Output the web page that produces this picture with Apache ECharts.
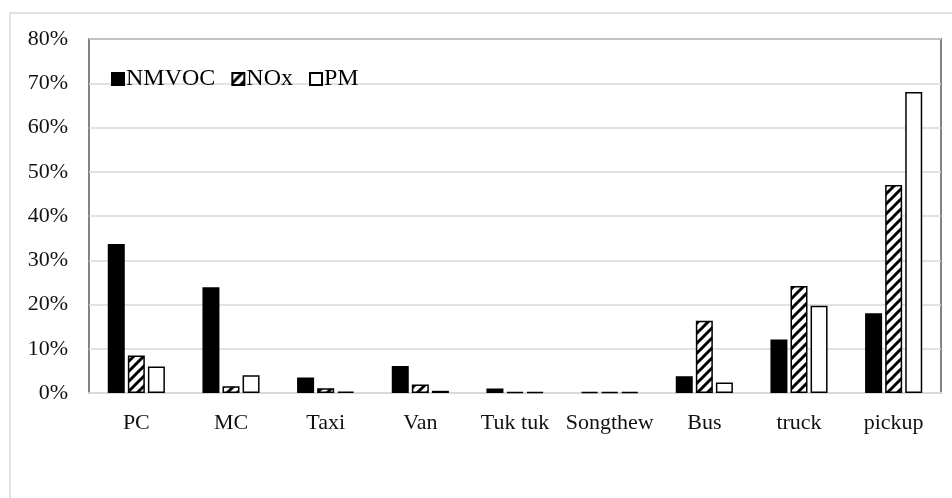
<!DOCTYPE html>
<html>
<head>
<meta charset="utf-8">
<script src="https://cdn.jsdelivr.net/npm/echarts@6/dist/echarts.min.js"></script>
<style>
  html, body { margin: 0; padding: 0; background: #fff; }
  #chart { width: 952px; height: 498px; }
</style>
</head>
<body>
<div id="chart"></div>
<script>
// vehicle types on the x axis
const categories = ['PC', 'MC', 'Taxi', 'Van', 'Tuk tuk', 'Songthew', 'Bus', 'truck', 'pickup'];
// share of emissions, in percent
const nmvocData = [33.7, 23.9, 3.5, 6.1, 1.0, 0.2, 3.8, 12.1, 18.0];
const noxData = [8.5, 1.5, 1.1, 1.9, 0.2, 0.2, 16.3, 24.2, 47.0];
const pmData = [6.0, 4.0, 0.3, 0.5, 0.2, 0.2, 2.4, 19.7, 68.0];
const yTicks = [0, 10, 20, 30, 40, 50, 60, 70, 80];

const FONT = '"Liberation Serif", "Times New Roman", serif';

// wide upward diagonal hatch, like the Excel pattern fill
const makeHatch = () => {
	const s = 10;
	const c = document.createElement('canvas');
	c.width = s;
	c.height = s;
	const g = c.getContext('2d');
	g.fillStyle = '#fff';
	g.fillRect(0, 0, s, s);
	g.strokeStyle = '#000';
	g.lineWidth = 3;
	g.beginPath();
	g.moveTo(-2, s + 2); g.lineTo(s + 2, -2);
	g.moveTo(-2, 2); g.lineTo(2, -2);
	g.moveTo(s - 2, s + 2); g.lineTo(s + 2, s - 2);
	g.stroke();
	return c;
};

const chart = echarts.init(document.getElementById('chart'), null, { renderer: 'canvas' });

const barBase = {
	type: 'bar',
	barWidth: 17,
	barGap: '18%',
	animation: false,
};

const option = {
	backgroundColor: '#fff',
	graphic: [
		{
			type: 'rect',
			shape: { x: 10, y: 13, width: 1000, height: 1000 },
			style: { fill: 'none', stroke: '#d9d9d9', lineWidth: 1.5 },
			silent: true,
		},
	],
	legend: {
		left: 106,
		top: 62,
		icon: 'rect',
		itemWidth: 12,
		itemHeight: 12,
		itemGap: 16,
		textStyle: {
			fontFamily: FONT,
			fontSize: 24,
			color: '#000',
			padding: [0, 0, 0, -3],
		},
		data: ['NMVOC', 'NOx', 'PM'],
	},
	grid: {
		left: 89,
		right: 11,
		top: 39,
		bottom: 105,
		show: true,
		borderColor: '#595959',
		borderWidth: 1.5,
	},
	xAxis: {
		type: 'category',
		data: categories,
		axisTick: { show: false },
		axisLine: { lineStyle: { color: '#d9d9d9', width: 2 } },
		axisLabel: {
			fontFamily: FONT,
			fontSize: 22,
			color: '#111',
			margin: 19,
			interval: 0,
		},
	},
	yAxis: {
		type: 'value',
		min: yTicks[0],
		max: yTicks[yTicks.length - 1],
		interval: 10,
		axisLine: { show: false },
		axisTick: { show: false },
		splitLine: { lineStyle: { color: '#d9d9d9', width: 1.5 } },
		axisLabel: {
			fontFamily: FONT,
			fontSize: 22,
			color: '#111',
			margin: 21,
			formatter: '{value}%',
		},
	},
	series: [
		{
			...barBase,
			name: 'NMVOC',
			data: nmvocData,
			itemStyle: { color: '#000', borderColor: '#000', borderWidth: 1.5 },
		},
		{
			...barBase,
			name: 'NOx',
			data: noxData,
			itemStyle: {
				color: { image: makeHatch(), repeat: 'repeat' },
				borderColor: '#000',
				borderWidth: 1.5,
			},
		},
		{
			...barBase,
			name: 'PM',
			data: pmData,
			itemStyle: { color: '#fff', borderColor: '#000', borderWidth: 1.5 },
		},
	],
};

option && chart.setOption(option);
</script>
</body>
</html>
